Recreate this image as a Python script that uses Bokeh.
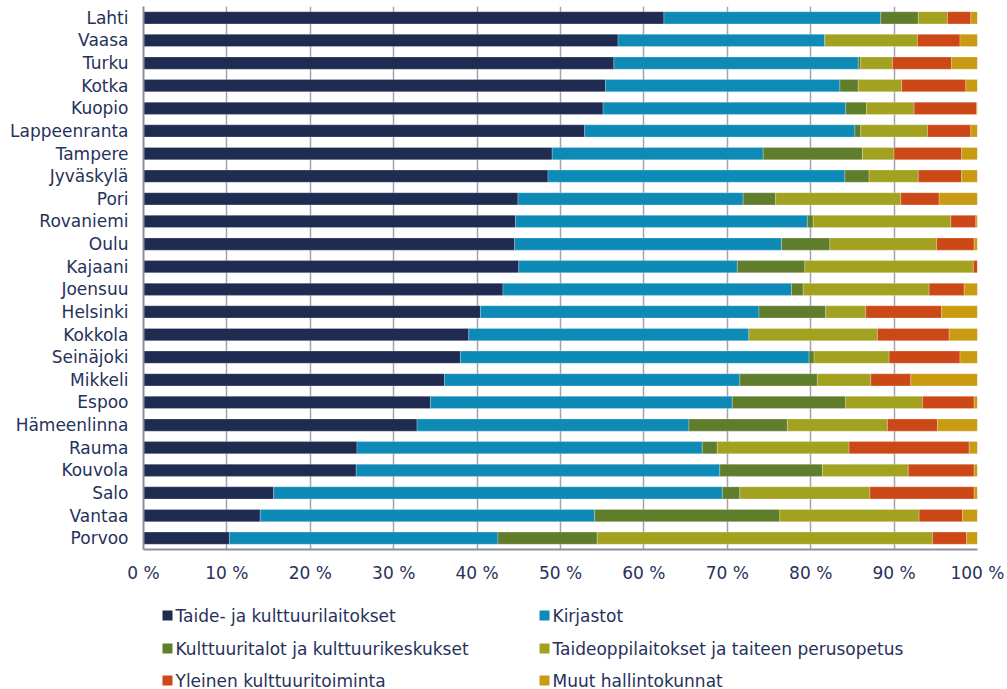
from bokeh.plotting import figure
from bokeh.layouts import column
from bokeh.models import ColumnDataSource, FixedTicker
from bokeh.core.properties import value
from bokeh.embed import file_html
from bokeh.resources import INLINE

cities = ["Lahti", "Vaasa", "Turku", "Kotka", "Kuopio", "Lappeenranta", "Tampere",
          "Jyväskylä", "Pori", "Rovaniemi", "Oulu", "Kajaani", "Joensuu", "Helsinki",
          "Kokkola", "Seinäjoki", "Mikkeli", "Espoo", "Hämeenlinna", "Rauma",
          "Kouvola", "Salo", "Vantaa", "Porvoo"]

taide = [62.4, 56.9, 56.4, 55.4, 55.1, 52.9, 49.0, 48.5, 44.9, 44.6, 44.5, 45.0,
         43.1, 40.4, 39.0, 38.0, 36.1, 34.4, 32.8, 25.6, 25.5, 15.6, 14.0, 10.3]
kirjastot = [26.0, 24.8, 29.3, 28.1, 29.1, 32.4, 25.3, 35.6, 27.0, 35.0, 32.0, 26.2,
             34.6, 33.4, 33.6, 41.8, 35.4, 36.2, 32.6, 41.4, 43.6, 53.8, 40.1, 32.2]
kulttuuritalot = [4.5, 0.0, 0.3, 2.2, 2.5, 0.7, 11.9, 2.9, 3.9, 0.7, 5.8, 8.1,
                  1.4, 8.0, 0.0, 0.6, 9.3, 13.6, 11.8, 1.8, 12.3, 2.1, 22.2, 11.9]
taideoppilaitokset = [3.5, 11.1, 3.8, 5.2, 5.7, 8.0, 3.8, 5.9, 15.0, 16.5, 12.8, 20.2,
                      15.1, 4.8, 15.4, 9.0, 6.4, 9.2, 12.0, 15.8, 10.3, 15.6, 16.7, 40.2]
yleinen = [2.8, 5.1, 7.1, 7.7, 7.5, 5.2, 8.1, 5.2, 4.6, 3.0, 4.5, 0.5,
           4.2, 9.1, 8.6, 8.5, 4.8, 6.2, 6.0, 14.4, 7.9, 12.5, 5.2, 4.1]
muut = [0.8, 2.1, 3.1, 1.4, 0.1, 0.8, 1.9, 1.9, 4.6, 0.2, 0.4, 0.0,
        1.6, 4.3, 3.4, 2.1, 8.0, 0.4, 4.8, 1.0, 0.4, 0.4, 1.8, 1.3]

series_names = ["Taide- ja kulttuurilaitokset", "Kirjastot",
                "Kulttuuritalot ja kulttuurikeskukset",
                "Taideoppilaitokset ja taiteen perusopetus",
                "Yleinen kulttuuritoiminta", "Muut hallintokunnat"]
keys = ["taide", "kirjastot", "kulttuuritalot", "taideoppilaitokset", "yleinen", "muut"]
colors = ["#1F2B50", "#0E8AB7", "#607D2C", "#A3A220", "#CC4817", "#C89B12"]
x_ticks = [0, 10, 20, 30, 40, 50, 60, 70, 80, 90, 100]
x_tick_labels = ["0 %", "10 %", "20 %", "30 %", "40 %", "50 %", "60 %", "70 %",
                 "80 %", "90 %", "100 %"]

src = ColumnDataSource(dict(city=cities, taide=taide, kirjastot=kirjastot,
                            kulttuuritalot=kulttuuritalot,
                            taideoppilaitokset=taideoppilaitokset,
                            yleinen=yleinen, muut=muut))

FONT = "DejaVu Sans"
TXT = "#27325A"
FS = "17px"

FRAME_L, FRAME_W = 143, 834

p = figure(y_range=list(reversed(cities)), x_range=(0, 100),
           frame_width=FRAME_W, frame_height=543,
           min_border_left=FRAME_L, min_border_right=30, min_border_top=6,
           min_border_bottom=36,
           output_backend="svg", toolbar_location=None)

rs = p.hbar_stack(keys, y="city", height=0.54, color=colors, source=src,
                  line_color="white", line_width=0.4, line_alpha=0.6)

p.outline_line_color = None

p.xaxis.ticker = FixedTicker(ticks=x_ticks)
p.xaxis.major_label_overrides = {t: l for t, l in zip(x_ticks, x_tick_labels)}
p.xaxis.major_tick_out = 0
p.xaxis.major_tick_in = 0
p.xaxis.minor_tick_out = 0
p.xaxis.minor_tick_in = 0
p.xaxis.axis_line_color = "#8C8D9C"
p.xaxis.axis_line_width = 2
p.xaxis.major_label_standoff = 13
p.xaxis.major_label_text_font = FONT
p.xaxis.major_label_text_font_size = FS
p.xaxis.major_label_text_color = TXT

p.yaxis.major_tick_out = 0
p.yaxis.major_tick_in = 0
p.yaxis.minor_tick_out = 0
p.yaxis.axis_line_color = "#8C8D9C"
p.yaxis.axis_line_width = 2
p.yaxis.major_label_standoff = 15
p.yaxis.major_label_text_font = FONT
p.yaxis.major_label_text_font_size = FS
p.yaxis.major_label_text_color = TXT

p.ygrid.grid_line_color = None
p.xgrid.grid_line_color = "#A2A2B0"
p.xgrid.grid_line_width = 1.5

# legend panel below the chart; its frame is aligned with the chart frame,
# so x coordinates are page pixels, y runs downwards in pixels
LEG_H = 104
p2 = figure(width=1007, height=LEG_H, x_range=(FRAME_L, FRAME_L + FRAME_W),
            y_range=(LEG_H, 0),
            min_border_left=FRAME_L, min_border_right=30, min_border_top=0,
            min_border_bottom=0, frame_width=FRAME_W, frame_height=LEG_H,
            x_axis_type=None, y_axis_type=None,
            output_backend="svg", toolbar_location=None)
p2.outline_line_color = None
p2.xgrid.visible = False
p2.ygrid.visible = False

col_x = [167, 544]
row_y = [30, 63, 95]
leg_x = [col_x[i % 2] for i in range(len(series_names))]
leg_y = [row_y[i // 2] for i in range(len(series_names))]
leg_src = ColumnDataSource(dict(x=leg_x, y=leg_y, tx=[x + 8 for x in leg_x],
                                label=series_names, color=colors))
p2.rect(x="x", y="y", width=10, height=10, fill_color="color", line_color=None,
        source=leg_src)
p2.text(x="tx", y="y", text="label", source=leg_src, text_font=value(FONT),
        text_font_size=FS, text_color=TXT, text_baseline="middle",
        text_align="left")

layout = column(p, p2, spacing=0)
open("out.html", "w").write(file_html(layout, INLINE))
